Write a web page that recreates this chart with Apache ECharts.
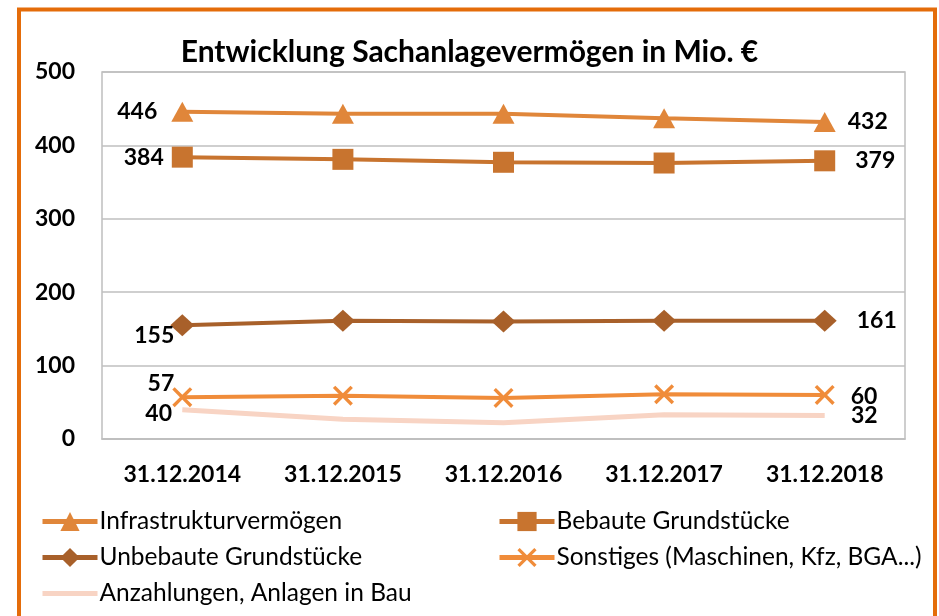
<!DOCTYPE html>
<html>
<head>
<meta charset="utf-8">
<script src="https://cdn.jsdelivr.net/npm/echarts@6/dist/echarts.min.js"></script>
<style>html,body{margin:0;padding:0;background:#fff;}#c{width:939px;height:616px;}</style>
</head>
<body>
<div id="c"></div>
<script>
var categories = ['31.12.2014', '31.12.2015', '31.12.2016', '31.12.2017', '31.12.2018'];
var infra = [446, 443, 443, 437, 432];
var bebaut = [384, 381, 377, 376, 379];
var unbebaut = [155, 161, 160, 161, 161];
var sonstiges = [57, 59, 56, 61, 60];
var anzahlung = [40, 27, 22, 33, 32];
var yTicks = [0, 100, 200, 300, 400, 500];

var FONT = 'Lato, "Open Sans", sans-serif';

function mk(values, firstLabel, lastLabel) {
  return values.map(function (v, i) {
    var item = { value: v };
    if (i === 0) item.label = Object.assign({ show: true }, firstLabel);
    else if (i === values.length - 1) item.label = Object.assign({ show: true }, lastLabel);
    else item.label = { show: false };
    return item;
  });
}
var lblBase = { color: '#000', fontWeight: 'bold', fontSize: 23, fontFamily: FONT };
var xPath = 'path://M0,1.2L1.2,0L5,3.8L8.8,0L10,1.2L6.2,5L10,8.8L8.8,10L5,6.2L1.2,10L0,8.8L3.8,5Z';
var legText = { fontSize: 24.5, fontFamily: FONT, color: '#000', padding: [0, 0, 0, -3] };
function leg(left, names) {
  return { left: left, top: 509, orient: 'vertical', padding: 0, itemWidth: 55, itemHeight: 24, itemGap: 11,
    lineStyle: { width: 5 }, textStyle: legText, data: names };
}

var chart = echarts.init(document.getElementById('c'), null, { renderer: 'canvas' });
chart.setOption({
  animation: false,
  backgroundColor: '#fff',
  textStyle: { fontFamily: FONT },
  graphic: [{
    type: 'rect', shape: { x: 19, y: 9.5, width: 916, height: 640 },
    style: { fill: 'none', stroke: '#E46C0A', lineWidth: 4 }, z: 100
  }],
  title: {
    text: 'Entwicklung Sachanlagevermögen in Mio. €',
    left: 'center', top: 32,
    textStyle: { fontFamily: FONT, fontWeight: 'bold', fontSize: 30, color: '#000' }
  },
  grid: { left: 102, right: 34, top: 72, bottom: 177, show: true, borderColor: '#BFBFBF', borderWidth: 1.5, containLabel: false },
  xAxis: {
    type: 'category', data: categories, boundaryGap: true,
    axisLine: { lineStyle: { color: '#BFBFBF', width: 1.5 } },
    axisTick: { show: false },
    axisLabel: { color: '#000', fontWeight: 'bold', fontSize: 23, fontFamily: FONT, margin: 24 }
  },
  yAxis: {
    type: 'value', min: 0, max: 500, interval: 100,
    axisLine: { show: false }, axisTick: { show: false },
    splitLine: { lineStyle: { color: '#BFBFBF', width: 1.5 } },
    axisLabel: { color: '#000', fontWeight: 'bold', fontSize: 23, fontFamily: FONT, margin: 27,
      formatter: function (v) { return yTicks.indexOf(v) >= 0 ? String(v) : ''; } }
  },
  legend: [
    leg(40, ['Infrastrukturvermögen', 'Unbebaute Grundstücke',
      { name: 'Anzahlungen, Anlagen in Bau', itemStyle: { opacity: 0 } }]),
    leg(497, ['Bebaute Grundstücke', 'Sonstiges (Maschinen, Kfz, BGA...)'])
  ],
  series: [
    { name: 'Infrastrukturvermögen', type: 'line', data: mk(infra,
        Object.assign({ position: 'left', distance: 14 }, lblBase),
        Object.assign({ position: 'right', distance: 12 }, lblBase)),
      symbol: 'triangle', symbolSize: [22, 20], lineStyle: { color: '#E0863A', width: 4 },
      itemStyle: { color: '#E0863A' }, z: 5 },
    { name: 'Bebaute Grundstücke', type: 'line', data: mk(bebaut,
        Object.assign({ position: 'left', distance: 8 }, lblBase),
        Object.assign({ position: 'right', distance: 20 }, lblBase)),
      symbol: 'rect', symbolSize: 21, lineStyle: { color: '#C8742F', width: 4 },
      itemStyle: { color: '#C8742F' }, z: 4 },
    { name: 'Unbebaute Grundstücke', type: 'line', data: mk(unbebaut,
        Object.assign({ position: 'left', distance: -4, offset: [0, 10] }, lblBase),
        Object.assign({ position: 'right', distance: 20 }, lblBase)),
      symbol: 'diamond', symbolSize: [24, 22], lineStyle: { color: '#A8602A', width: 4 },
      itemStyle: { color: '#A8602A' }, z: 3 },
    { name: 'Sonstiges (Maschinen, Kfz, BGA...)', type: 'line', data: mk(sonstiges,
        Object.assign({ position: 'left', distance: -2, offset: [0, -14] }, lblBase),
        Object.assign({ position: 'right', distance: 16, offset: [0, 2] }, lblBase)),
      symbol: xPath, symbolSize: 20, lineStyle: { color: '#F08C3A', width: 4 },
      itemStyle: { color: '#F08C3A' }, z: 2 },
    { name: 'Anzahlungen, Anlagen in Bau', type: 'line', data: mk(anzahlung,
        Object.assign({ position: 'left', distance: 10, offset: [0, 4] }, lblBase),
        Object.assign({ position: 'right', distance: 26, offset: [0, 0] }, lblBase)),
      symbol: 'circle', symbolSize: 0.5, showSymbol: true, lineStyle: { color: '#F8D4C4', width: 5 },
      itemStyle: { color: '#F8D4C4' }, z: 1 }
  ]
});
</script>
</body>
</html>
